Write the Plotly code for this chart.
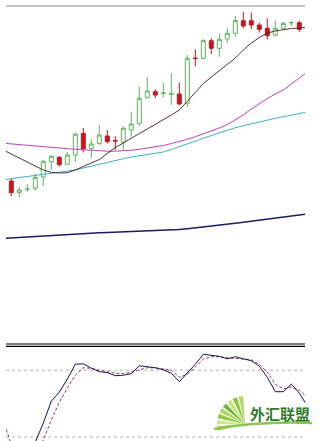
import math
import plotly.graph_objects as go

# ---------------- data ----------------
bars = list(range(37))
opens = [69, 57.3, 60.6, 61.7, 73, 88.3, 92.7, 85.7, 95, 116.7, 101.7, 106.7, 114, 109.4, 107.8, 120,
         126.7, 152.3, 158.3, 156.5, 155.8, 156, 146.7, 192, 191.7, 209.3, 201.7, 211, 216.7, 229.3,
         229.3, 225, 221.7, 215, 221.7, 227.1, 227.3]
highs = [72, 63, 66, 76, 90, 94.5, 94, 98, 117.3, 122, 110.7, 125, 120, 113.7, 123.7, 138.3,
         163.3, 172.7, 160.7, 167.3, 176.7, 167.3, 195, 200.7, 211, 211.7, 216.7, 221.7, 234, 238.3,
         237.3, 227.3, 231.7, 229.3, 228.3, 229.3, 229.3]
lows = [54, 53, 58.3, 59.3, 64, 80, 83.3, 85, 88, 97.5, 91.7, 105, 106.7, 100, 100, 113.3,
        124, 151.7, 151.7, 152.7, 145, 145, 143.3, 183.7, 190.7, 196, 193.3, 207.3, 213.3, 221.7,
        220.7, 217.3, 210.7, 213.3, 220, 224, 218.3]
closes = [57.3, 60, 60.8, 72.7, 88.7, 93.7, 85.5, 95, 115.8, 101.2, 106, 115, 108.3, 109.0, 121.7, 126,
          151.7, 159, 155, 156.9, 156.2, 146, 191.7, 191.5, 209.3, 201.7, 210.7, 216.7, 229.3, 224,
          225, 220.7, 214.3, 221.7, 226.7, 227.5, 220.7]

ma_x = list(range(-1, 38))
ma_fast = [100, 96, 92, 88, 83.5, 80, 77.7, 77, 77.3, 80, 83.5, 87, 90.5, 96.5, 102.5, 107, 112,
           116.5, 121, 125.5, 130.5, 135, 140, 148.3, 157.5, 166.5, 173, 179, 185.5, 192, 200, 207,
           212.5, 217, 219, 220.5, 221.5, 222, 222.5]
ma_mid = [106.8, 106.2, 105.7, 105, 104.3, 103.5, 102.7, 102, 101.3, 100.7, 100, 99.5, 99, 98.8,
          98.8, 99, 99.8, 100.7, 101.8, 103, 104.5, 106.5, 108.3, 110.7, 113.3, 116, 119, 122, 125.5,
          130.5, 135, 141, 146.5, 151.5, 156, 160, 166, 172.5, 178]
ma_slow = [70, 71.5, 72.5, 73.5, 74.5, 75.5, 76.5, 77.5, 78.5, 80, 82, 84, 85.7, 87.5, 89.5, 91.3,
           93, 94.3, 95.5, 96.7, 98, 100.5, 103.5, 106.3, 109, 111.7, 114.5, 117.3, 120, 122.3, 124.3,
           126.3, 128.3, 130, 131.7, 133.3, 135, 136.5, 138]
ma_long = [11.5, 12, 12.5, 13, 13.7, 14.2, 14.8, 15.4, 15.9, 16.3, 16.7, 17, 17.3, 17.6, 17.9,
           18.1, 18.4, 18.6, 18.9, 19.3, 19.7, 20.1, 20.5, 21.3, 22.1, 23, 23.9, 24.9, 25.8, 26.7,
           27.7, 28.7, 29.7, 30.7, 31.7, 32.8, 33.8, 35, 36]

stoch_main = [8, 5, 4, 10, 15.5, 32.5, 52.2, 60.3, 71.9, 85.4, 85.8, 81.8, 78.7, 77.8, 75.1, 75.5,
              76.9, 84, 83.1, 82.2, 80.4, 77.3, 69.7, 77.3, 85.4, 94.3, 93.2, 92.5, 90.3, 92.1, 90.3,
              88.5, 83.6, 73.7, 60.7, 60.7, 67.5, 59.4, 47.8]
stoch_signal = [35.2, 12.8, 2, 2.5, 5, 17.3, 35.2, 51.3, 63.9, 75.5, 82.2, 81.8, 80, 78.7, 77.3,
                76.9, 78.2, 80.4, 82.2, 82.2, 81.3, 80, 73.7, 76.4, 82.7, 89.9, 92.1, 92.1, 91.2,
                90.7, 90.3, 89.4, 85.4, 78.2, 67.5, 63.4, 64.8, 62.1, 55.8]
stoch_levels = [80, 20]

# ---------------- styling ----------------
W, H = 320, 441
GREEN = "#5db35d"
RED = "#c8161e"


def px(x):
    return x / W


def py(y):
    return (H - y) / H


XD = [px(6), px(305)]
XR = [-0.6625, 36.7125]

fig = go.Figure()

fig.add_trace(go.Candlestick(
    x=bars, open=opens, high=highs, low=lows, close=closes,
    xaxis="x", yaxis="y",
    increasing=dict(line=dict(color=GREEN, width=1), fillcolor="white"),
    decreasing=dict(line=dict(color=RED, width=1), fillcolor=RED),
    whiskerwidth=0, showlegend=False, hoverinfo="skip",
))

for vals, col, w in [(ma_long, "#1c1c5e", 1.5), (ma_slow, "#3fb0c4", 1.0),
                     (ma_mid, "#c040c0", 1.0), (ma_fast, "#3a2020", 0.9)]:
    fig.add_trace(go.Scatter(x=ma_x, y=vals, mode="lines", xaxis="x", yaxis="y",
                             line=dict(color=col, width=w), showlegend=False, hoverinfo="skip"))

fig.add_trace(go.Scatter(x=ma_x, y=stoch_signal, mode="lines", xaxis="x2", yaxis="y2",
                         line=dict(color="#8a3a5e", width=1, dash="3px,2px"),
                         showlegend=False, hoverinfo="skip"))
fig.add_trace(go.Scatter(x=ma_x, y=stoch_main, mode="lines", xaxis="x2", yaxis="y2",
                         line=dict(color="#14144a", width=1),
                         showlegend=False, hoverinfo="skip"))

shapes = []
# panel borders
shapes.append(dict(type="line", xref="paper", yref="paper", x0=XD[0], x1=XD[1],
                   y0=py(6), y1=py(6), line=dict(color="#8a8a8a", width=1.2)))
for yy in (344, 346.3):
    shapes.append(dict(type="line", xref="paper", yref="paper", x0=XD[0], x1=XD[1],
                       y0=py(yy), y1=py(yy), line=dict(color="#000000", width=1.2)))
# stochastic levels
for lv in stoch_levels:
    shapes.append(dict(type="line", xref="paper", yref="y2", x0=XD[0], x1=XD[1],
                       y0=lv, y1=lv, line=dict(color="#b4b4b4", width=1, dash="3px,3px"),
                       layer="below"))

# watermark logo (fan + swoosh)
cx, cy, r = 245, 424, 28
fan_cols = ["#b4da62", "#8cc640", "#c8e47a", "#74b63a", "#b0d85e", "#8fc748", "#cfe88a", "#9fd052"]
n = len(fan_cols)
a0, a1 = 92, 196
step = (a1 - a0) / n
for k, col in enumerate(fan_cols):
    s = math.radians(a0 + k * step + 1.8)
    e = math.radians(a0 + (k + 1) * step - 1.8)
    pts = [(cx, cy), (cx + r * math.cos(s), cy - r * math.sin(s)),
           (cx + r * math.cos(e), cy - r * math.sin(e))]
    path = "M {} {} L {} {} L {} {} Z".format(*[v for p in pts for v in (px(p[0]), py(p[1]))])
    shapes.append(dict(type="path", xref="paper", yref="paper", path=path,
                       fillcolor=col, line=dict(width=0)))
sw = "M {} {} Q {} {} {} {}".format(px(214), py(429), px(262), py(421), px(312), py(423))
shapes.append(dict(type="path", xref="paper", yref="paper", path=sw,
                   line=dict(color="#8cc652", width=2.5)))

fig.update_layout(
    width=W, height=H,
    margin=dict(l=0, r=0, t=0, b=0),
    paper_bgcolor="white", plot_bgcolor="white",
    boxgap=0.3,
    xaxis=dict(domain=XD, range=XR, visible=False, rangeslider=dict(visible=False), anchor="y"),
    yaxis=dict(domain=[py(344), py(6)], range=[-94, 244], visible=False, anchor="x"),
    xaxis2=dict(domain=XD, range=XR, visible=False, anchor="y2"),
    yaxis2=dict(domain=[0, py(346.3)], range=[16.4, 101.5], visible=False, anchor="x2"),
    shapes=shapes,
    annotations=[dict(text="<b>外汇联盟</b>", xref="paper", yref="paper", x=px(280), y=py(413),
                      showarrow=False, xanchor="center", yanchor="middle",
                      font=dict(family="Noto Sans CJK SC", size=15, color="#2f7a2a"))],
)

fig.write_html("out.html")
